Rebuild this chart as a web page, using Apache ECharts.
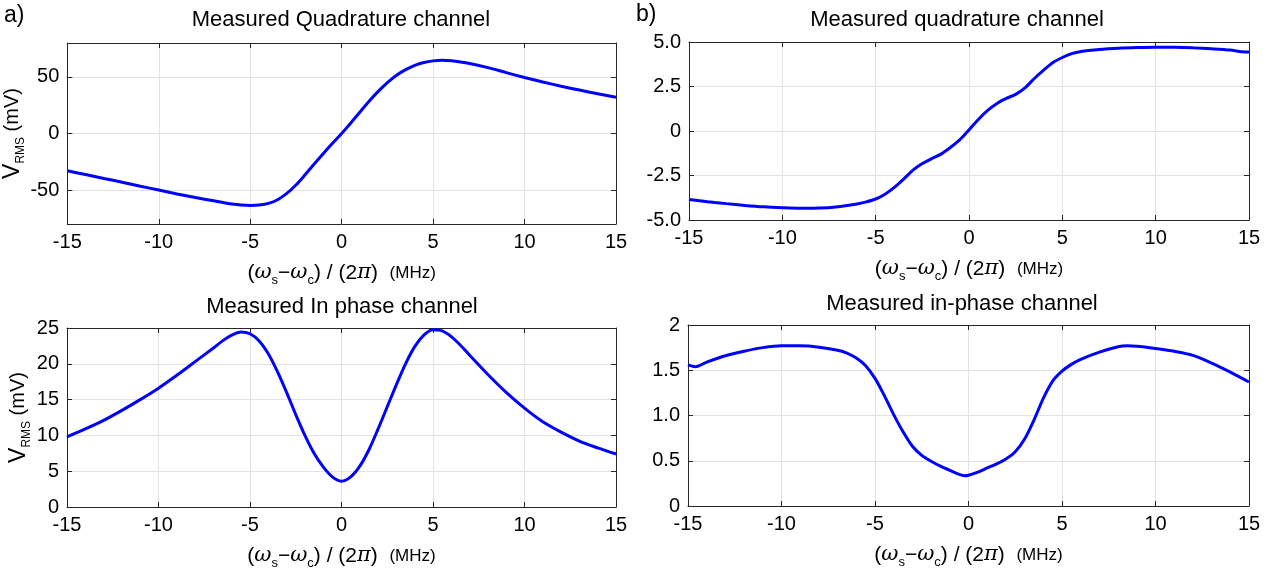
<!DOCTYPE html>
<html>
<head>
<meta charset="utf-8">
<script src="https://cdn.jsdelivr.net/npm/echarts@6/dist/echarts.min.js"></script>
<style>
html,body{margin:0;padding:0;background:#fff;}
#chart{width:1277px;height:571px;}
</style>
</head>
<body>
<div id="chart"></div>
<script>
// ---------- DATA ----------
// Panel a, top: measured quadrature channel (mV)
const aQuadX = [-15,-14,-13,-12,-11,-10,-9,-8,-7,-6.5,-6,-5.5,-5,-4.5,-4,-3.5,-3,-2.5,-2,-1.5,-1,-0.5,0,0.5,1,1.5,2,2.5,3,3.5,4,4.5,5,5.5,6,6.5,7,8,9,10,11,12,13,14,15];
const aQuadY = [-33,-36.3,-39.7,-43.1,-46.6,-50.0,-53.4,-56.6,-59.5,-61.0,-62.3,-63.2,-63.6,-63.2,-61.8,-58.6,-53.0,-45.5,-36.5,-27.0,-17.7,-8.7,0,9.3,19.0,28.5,37.2,45.0,51.5,56.5,60.3,62.8,64.2,64.7,64.3,63.3,61.9,58.2,53.8,49.5,45.5,41.8,38.4,35.1,32.0];
// Panel a, bottom: measured in phase channel (mV)
const aInX = [-15,-14,-13,-12,-11,-10,-9,-8,-7,-6.5,-6,-5.5,-5,-4.5,-4,-3.5,-3,-2.5,-2,-1.5,-1,-0.5,0,0.5,1,1.5,2,2.5,3,3.5,4,4.5,5,5.5,6,6.5,7,8,9,10,11,12,13,14,15];
const aInY = [9.8,10.9,12.1,13.5,15.0,16.6,18.4,20.3,22.2,23.2,24.0,24.45,24.2,23.2,21.4,18.9,16.0,12.9,10.0,7.5,5.6,4.2,3.6,4.2,5.7,8.0,10.9,14.0,17.1,20.0,22.4,24.0,24.75,24.6,23.8,22.6,21.2,18.5,16.0,13.8,11.9,10.45,9.2,8.25,7.4];
// Panel b, top: measured quadrature channel
const bQuadX = [-15,-14,-13,-12,-11,-10,-9,-8,-7,-6,-5.5,-5,-4.5,-4,-3.5,-3,-2.5,-2,-1.5,-1,-0.5,0,0.5,1,1.5,2,2.5,3,3.5,4,4.5,5,5.5,6,7,8,9,10,11,12,13,14,14.5,15];
const bQuadY = [-3.85,-3.97,-4.08,-4.18,-4.26,-4.31,-4.34,-4.33,-4.25,-4.1,-3.98,-3.82,-3.55,-3.17,-2.7,-2.2,-1.83,-1.55,-1.3,-0.93,-0.5,0.06,0.65,1.16,1.55,1.83,2.06,2.42,2.95,3.42,3.85,4.13,4.35,4.47,4.58,4.65,4.69,4.71,4.70,4.67,4.62,4.55,4.47,4.44];
// Panel b, bottom: measured in-phase channel
const bInX = [-15,-14.6,-14,-13,-12,-11,-10,-9,-8,-7,-6.5,-6,-5.5,-5,-4.5,-4,-3.5,-3,-2.5,-2,-1.5,-1,-0.5,-0.2,0,0.5,1,1.5,2,2.5,3,3.5,4,4.5,5,5.5,6,7,8,8.5,9,10,11,12,13,14,15];
const bInY = [1.56,1.54,1.59,1.66,1.71,1.75,1.77,1.77,1.755,1.72,1.69,1.635,1.55,1.41,1.22,1.01,0.82,0.66,0.56,0.495,0.44,0.395,0.35,0.335,0.34,0.375,0.42,0.465,0.52,0.60,0.74,0.95,1.19,1.38,1.49,1.565,1.62,1.70,1.76,1.77,1.765,1.74,1.71,1.665,1.58,1.48,1.37];

// Titles and tick labels
const titles = ['Measured Quadrature channel','Measured In phase channel','Measured quadrature channel','Measured in-phase channel'];
const panelLetters = ['a)','b)'];
const aQuadTicks = [-50,0,50];

// ---------- CHART ----------
const FONT = '"Liberation Sans", Arial, Helvetica, sans-serif';
const AX = '#262626';
const GRIDC = '#e2e2e2';

const xNameText = '{b|(}{w|ω}{s|s}{b|−}{w|ω}{s|c}{b|) / (2}{w|π}{b|)  }{m|(MHz)}';
const xNameRich = {
  b:{fontSize:21, fontFamily:FONT, color:'#000', lineHeight:28, verticalAlign:'middle'},
  w:{fontSize:21, fontFamily:'"DejaVu Serif", serif', fontStyle:'italic', color:'#000', lineHeight:28, verticalAlign:'middle'},
  s:{fontSize:13, fontFamily:FONT, color:'#000', lineHeight:13, verticalAlign:'bottom'},
  m:{fontSize:17, fontFamily:FONT, color:'#000', lineHeight:28, verticalAlign:'middle'}
};
const yNameText = '{v|V}{s|RMS}{u| (mV)}';
const yNameRich = {
  v:{fontSize:23, fontFamily:FONT, color:'#000', lineHeight:28, verticalAlign:'middle'},
  s:{fontSize:12, fontFamily:FONT, color:'#000', lineHeight:12, verticalAlign:'bottom'},
  u:{fontSize:20, fontFamily:FONT, color:'#000', lineHeight:28, verticalAlign:'middle'}
};

const grids = [
  {left:67, width:549, top:43, height:181},
  {left:67, width:549, top:328, height:182},
  {left:689, width:560, top:42, height:178},
  {left:688, width:561, top:325, height:181}
];

const xAxes = [], yAxes = [];
grids.forEach((g, i) => {
  xAxes.push({
    type:'value', gridIndex:i, min:-15, max:15, interval:5, position:'bottom',
    axisLine:{show:true, onZero:false, lineStyle:{color:AX, width:1}},
    axisTick:{show:true, inside:true, length:5, lineStyle:{color:AX}},
    axisLabel:{color:'#000', fontSize:20, fontFamily:FONT, margin:8},
    splitLine:{show:true, lineStyle:{color:GRIDC, width:1}},
    name:xNameText, nameLocation:'middle', nameGap:35,
    nameTextStyle:{rich:xNameRich}
  });
  xAxes.push({
    type:'value', gridIndex:i, min:-15, max:15, interval:5, position:'top',
    axisLine:{show:true, onZero:false, lineStyle:{color:AX, width:1}},
    axisTick:{show:true, inside:true, length:5, lineStyle:{color:AX}},
    axisLabel:{show:false}, splitLine:{show:false}
  });
});

function yBase(i, extra, hasName){
  const main = Object.assign({
    type:'value', gridIndex:i, position:'left',
    axisLine:{show:true, onZero:false, lineStyle:{color:AX, width:1}},
    axisTick:{show:true, inside:true, length:5, lineStyle:{color:AX}},
    axisLabel:{color:'#000', fontSize:20, fontFamily:FONT, margin:8},
    splitLine:{show:true, lineStyle:{color:GRIDC, width:1}}
  }, extra.main);
  if (hasName) {
    main.name = yNameText; main.nameLocation='middle'; main.nameRotate=90; main.nameGap=28;
    main.nameTextStyle = {rich:yNameRich};
  }
  const mirror = Object.assign({
    type:'value', gridIndex:i, position:'right',
    axisLine:{show:true, onZero:false, lineStyle:{color:AX, width:1}},
    axisTick:{show:true, inside:true, length:5, lineStyle:{color:AX}},
    axisLabel:{show:false}, splitLine:{show:false}
  }, extra.mirror);
  yAxes.push(main, mirror);
}
yBase(0, {
  main:{min:-80, max:80, axisLabel:{color:'#000', fontSize:20, fontFamily:FONT, margin:8, customValues:aQuadTicks},
        axisTick:{show:true, inside:true, length:5, lineStyle:{color:AX}, customValues:aQuadTicks}},
  mirror:{min:-80, max:80, axisTick:{show:true, inside:true, length:5, lineStyle:{color:AX}, customValues:aQuadTicks}}
}, true);
yBase(1, {main:{min:0, max:25, interval:5}, mirror:{min:0, max:25, interval:5}}, true);
yBase(2, {
  main:{min:-5, max:5, interval:2.5, axisLabel:{color:'#000', fontSize:20, fontFamily:FONT, margin:8,
        formatter:v => v === 0 ? '0' : v.toFixed(1)}},
  mirror:{min:-5, max:5, interval:2.5}
}, false);
yBase(3, {
  main:{min:0, max:2, interval:0.5, axisLabel:{color:'#000', fontSize:20, fontFamily:FONT, margin:8,
        formatter:v => (v === 0 || v === 2) ? String(v) : v.toFixed(1)}},
  mirror:{min:0, max:2, interval:0.5}
}, false);

function pairs(xs, ys){ return xs.map((x, k) => [x, ys[k]]); }
const seriesData = [pairs(aQuadX, aQuadY), pairs(aInX, aInY), pairs(bQuadX, bQuadY), pairs(bInX, bInY)];
const series = seriesData.map((d, i) => ({
  type:'line', xAxisIndex:2*i, yAxisIndex:2*i, data:d, smooth:0.3, showSymbol:false,
  lineStyle:{color:'#0000ff', width:3}, z:5, clip:true
}));

const titlePos = [[341,20],[342,307],[957,20],[962,304]];
const graphic = titles.map((t, i) => ({
  type:'text', x:titlePos[i][0], y:titlePos[i][1],
  style:{text:t, font:'22px ' + FONT, fill:'#000', textAlign:'center', textVerticalAlign:'middle'}
}));
graphic.push({type:'text', x:4, y:16, style:{text:panelLetters[0], font:'23px ' + FONT, fill:'#000', textAlign:'left', textVerticalAlign:'middle'}});
graphic.push({type:'text', x:636, y:15, style:{text:panelLetters[1], font:'23px ' + FONT, fill:'#000', textAlign:'left', textVerticalAlign:'middle'}});

const chart = echarts.init(document.getElementById('chart'), null, {renderer:'canvas'});
chart.setOption({
  backgroundColor:'#ffffff',
  animation:false,
  grid:grids,
  xAxis:xAxes,
  yAxis:yAxes,
  series:series,
  graphic:graphic
});
</script>
</body>
</html>
